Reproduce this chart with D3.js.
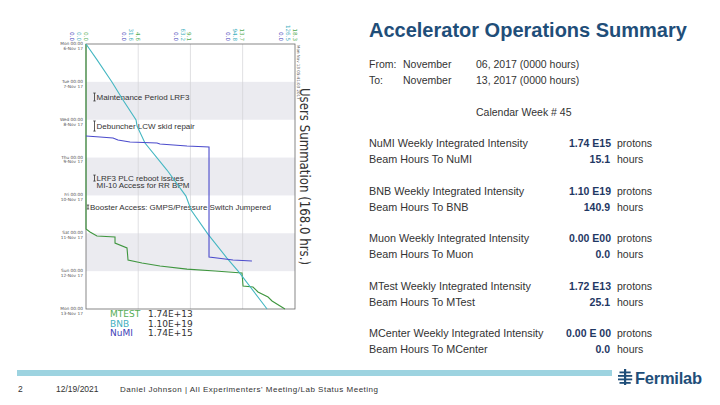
<!DOCTYPE html>
<html><head><meta charset="utf-8">
<script src="https://cdn.jsdelivr.net/npm/d3@7/dist/d3.min.js"></script>
<style>body{margin:0;background:#fff}svg{display:block}text{font-family:"Liberation Sans",Arial,sans-serif}</style>
</head><body><svg id="c" width="720" height="405"></svg>
<script>
// ---------- data ----------
const dayHours = [0, 24, 48, 72, 96, 120, 144, 168];
const dayNames = ["Mon 00:00","Tue 00:00","Wed 00:00","Thu 00:00","Fri 00:00","Sat 00:00","Sun 00:00","Mon 00:00"];
const dayDates = ["6-Nov 17","7-Nov 17","8-Nov 17","9-Nov 17","10-Nov 17","11-Nov 17","12-Nov 17","13-Nov 17"];
const shadedDays = [1, 3, 5];

const bnbTicks = [0, 31.6, 63.2, 94.8, 126.5];
const mtestTicks = [0, 4.6, 9.1, 13.7, 18.3];
const numiTicks = [0, 0.0055, 0.011, 0.0164, 0.0219];

const bnbHours  = [0, 10.1, 24.1, 35.5, 48.2, 52.0, 62.8, 79.9, 96.4, 105.2, 120.5, 135.7, 144.6, 168.0];
const bnbValues = [0, 6.7, 15.7, 22.4, 30.3, 30.9, 35.7, 49.0, 60.5, 63.6, 73.8, 85.3, 92.6, 109.6];

const mtestHours  = [0, 117.3, 119.2, 121.7, 122.4, 126.2, 129.3, 136.9, 138.8, 140.7, 142.7, 143.9, 145.2, 153.4, 154.1, 157.2, 160.4, 162.9, 168.0];
const mtestValues = [0, 0, 0.35, 0.96, 2.54, 2.54, 3.59, 3.68, 4.90, 6.48, 8.84, 11.30, 13.66, 13.75, 14.62, 15.06, 15.94, 16.29, 17.42];

const numiHours  = [58.3, 59.0, 59.6, 60.9, 62.1, 62.8, 63.4, 64.7, 65.3, 135.0, 135.7, 136.9, 137.6];
const numiValues = [0, 0.00147, 0.00283, 0.00335, 0.00461, 0.00744, 0.00775, 0.01058, 0.01289, 0.01289, 0.01373, 0.01540, 0.01739];

const annStart = [31.1, 48.8, 83.1, 102.1];
const annEnd   = [36.1, 55.2, 86.9, 104.6];
const annText  = [["Maintenance Period LRF3"], ["Debuncher LCW skid repair"], ["LRF3 PLC reboot issues", "MI-10 Access for RR BPM"], ["Booster Access: GMPS/Pressure Switch Jumpered"]];

const legendNames  = ["MTEST", "BNB", "NuMI"];
const legendTotals = ["1.74E+13", "1.10E+19", "1.74E+15"];

const beamlines = ["NuMI", "BNB", "Muon", "MTest", "MCenter"];
const intensityMant = ["1.74", "1.10", "0.00", "1.72", "0.00"];
const intensityExp  = ["E15", "E19", "E00", "E13", "E 00"];
const beamHours = ["15.1", "140.9", "0.0", "25.1", "0.0"];

// ---------- drawing ----------
const svg = d3.select("#c");
const C = {mtest: "#3f963f", bnb: "#45b7c2", numi: "#4b4bcc", mtestT: "#55ad55", bnbT: "#3fb0c0", numiT: "#4242b8"};

const y = d3.scaleLinear().domain([0, 168]).range([44, 309]);
const xB = d3.scaleLinear().domain([0, 126.5]).range([86, 295]);
const xM = d3.scaleLinear().domain([0, 18.3]).range([86, 295]);
const xN = d3.scaleLinear().domain([0, 0.0219]).range([86, 295]);

// bands
svg.append("g").selectAll("rect").data(shadedDays).join("rect")
  .attr("x", 86).attr("width", 209)
  .attr("y", d => y(dayHours[d])).attr("height", d => y(dayHours[d + 1]) - y(dayHours[d]))
  .attr("fill", "#ebebf0");

// vertical grid
svg.append("g").selectAll("line").data(bnbTicks.slice(1, -1)).join("line")
  .attr("x1", d => xB(d)).attr("x2", d => xB(d)).attr("y1", 44).attr("y2", 309)
  .attr("stroke", "#d2d2d6").attr("stroke-width", 0.7);

// frame
svg.append("rect").attr("x", 86).attr("y", 44).attr("width", 209).attr("height", 265)
  .attr("fill", "none").attr("stroke", "#6a6a6a").attr("stroke-width", 0.8);

// top axes (three stacked labels per tick)
function topAxis(scale, ticks, color, off, fmt) {
  const g = svg.append("g").attr("transform", "translate(0,41)")
    .call(d3.axisTop(scale).tickValues(ticks).tickSize(0).tickFormat(fmt));
  g.select(".domain").remove();
  g.selectAll("text").attr("transform", "rotate(90)").attr("x", 0).attr("y", off).attr("dy", 0)
    .attr("text-anchor", "end").attr("fill", color).attr("font-size", 5.6)
    .style("font-family", "'DejaVu Sans',sans-serif");
}
topAxis(xN, numiTicks, C.numiT, 17, d3.format(".1f"));
topAxis(xB, bnbTicks, C.bnbT, 10, d3.format(".1f"));
topAxis(xM, mtestTicks, C.mtestT, 3, d3.format(".1f"));

// left axis
const la = svg.append("g").attr("transform", "translate(86,0)")
  .call(d3.axisLeft(y).tickValues(dayHours).tickSize(0).tickPadding(3));
la.select(".domain").remove();
la.selectAll("text").each(function(d, i) {
  const t = d3.select(this).text(null).attr("dy", null).attr("y", 0)
    .attr("font-size", 4.3).attr("fill", "#555").style("font-family", "'DejaVu Sans',sans-serif");
  t.append("tspan").attr("x", -3).attr("dy", "0.1em").text(dayNames[i]);
  t.append("tspan").attr("x", -3).attr("dy", "1.15em").text(dayDates[i]);
});

// annotations
const ag = svg.append("g");
annText.forEach((lines, i) => {
  const y0 = y(annStart[i]), y1 = y(annEnd[i]), xm = i === 3 ? 88 : 94.5;
  ag.append("path").attr("d", `M${xm-1.2},${y0}H${xm+1.2}M${xm},${y0}V${y1}M${xm-1.2},${y1}H${xm+1.2}`)
    .attr("stroke", "#333").attr("stroke-width", 0.8).attr("fill", "none");
  const cy = (y0 + y1) / 2;
  lines.forEach((s, j) => {
    ag.append("text").attr("x", xm + 2).attr("y", cy + 2.5 + j * 7.6).attr("font-size", 8)
      .attr("fill", "#333").text(s);
  });
});

// series lines
const line = sx => d3.line().x(d => sx(d[1])).y(d => y(d[0]));
svg.append("path").datum(d3.zip(mtestHours, mtestValues)).attr("d", line(xM))
  .attr("fill", "none").attr("stroke", C.mtest).attr("stroke-width", 1.1);
svg.append("path").datum(d3.zip(bnbHours, bnbValues)).attr("d", line(xB))
  .attr("fill", "none").attr("stroke", C.bnb).attr("stroke-width", 1.1);
svg.append("path").datum(d3.zip(numiHours, numiValues)).attr("d", line(xN))
  .attr("fill", "none").attr("stroke", C.numi).attr("stroke-width", 1.1);

// right side labels of plot
svg.append("text").attr("transform", "translate(297,45) rotate(90)").attr("font-size", 4)
  .attr("fill", "#555").style("font-family", "'DejaVu Sans',sans-serif").text("Mon Nov 13 05:41:03 2017");
svg.append("text").attr("transform", "translate(300,88) rotate(90)").attr("font-size", 14.5)
  .attr("fill", "#333").attr("textLength", 177).attr("lengthAdjust", "spacingAndGlyphs")
  .style("font-family", "'DejaVu Sans',sans-serif").text("Users Summation (168.0 hrs.)");

// legend
const lcol = [C.mtestT, C.bnbT, C.numiT];
legendNames.forEach((n, i) => {
  svg.append("text").attr("x", 110).attr("y", 317 + i * 9.5).attr("font-size", 9).attr("fill", lcol[i])
    .style("font-family", "'DejaVu Sans',sans-serif").text(n);
  svg.append("text").attr("x", 148).attr("y", 317 + i * 9.5).attr("font-size", 9).attr("fill", "#333")
    .style("font-family", "'DejaVu Sans',sans-serif").text(legendTotals[i]);
});

// title + header
svg.append("text").attr("x", 369).attr("y", 37).attr("font-size", 20).attr("font-weight", "bold")
  .attr("fill", "#1f4e79").text("Accelerator Operations Summary");
const hdr = [["From:", "November", "06, 2017 (0000 hours)"], ["To:", "November", "13, 2017 (0000 hours)"]];
hdr.forEach((r, i) => {
  [369, 403, 476].forEach((x, j) => svg.append("text").attr("x", x).attr("y", 68 + i * 16)
    .attr("font-size", 10.5).attr("fill", "#333").text(r[j]));
});
svg.append("text").attr("x", 476).attr("y", 116).attr("font-size", 10.5).attr("fill", "#333").text("Calendar Week # 45");

// stats
beamlines.forEach((b, i) => {
  const yb = 147 + i * 47.5;
  svg.append("text").attr("x", 369).attr("y", yb).attr("font-size", 10.8).attr("fill", "#333")
    .text(b + " Weekly Integrated Intensity");
  svg.append("text").attr("x", 369).attr("y", yb + 16).attr("font-size", 10.8).attr("fill", "#333")
    .text("Beam Hours To " + b);
  svg.append("text").attr("x", 611).attr("y", yb).attr("font-size", 10.5).attr("font-weight", "bold")
    .attr("text-anchor", "end").attr("fill", "#1f3864").text(intensityMant[i] + " " + intensityExp[i]);
  svg.append("text").attr("x", 617).attr("y", yb).attr("font-size", 10.5).attr("fill", "#333").text("protons");
  svg.append("text").attr("x", 610).attr("y", yb + 16).attr("font-size", 10.5).attr("font-weight", "bold")
    .attr("text-anchor", "end").attr("fill", "#1f3864").text(beamHours[i]);
  svg.append("text").attr("x", 617).attr("y", yb + 16).attr("font-size", 10.5).attr("fill", "#333").text("hours");
});

// footer
svg.append("rect").attr("x", 17).attr("y", 370).attr("width", 595).attr("height", 6).attr("fill", "#9dd3e0");
svg.append("text").attr("x", 18).attr("y", 392).attr("font-size", 8.5).attr("fill", "#333").text("2");
svg.append("text").attr("x", 56).attr("y", 392).attr("font-size", 8.5).attr("fill", "#333").text("12/19/2021");
svg.append("text").attr("x", 120).attr("y", 392).attr("font-size", 8).attr("fill", "#333")
  .attr("textLength", 258).attr("lengthAdjust", "spacing")
  .text("Daniel Johnson | All Experimenters' Meeting/Lab Status Meeting");

// Fermilab logo
const lg = svg.append("g").attr("transform", "translate(618,369)").attr("fill", "#1f4e79");
lg.append("rect").attr("x", 6).attr("y", 0).attr("width", 2.2).attr("height", 16);
[[0, 2.5], [0, 6], [0, 9.5], [0, 13]].forEach(([x, yy], i) => {
  lg.append("rect").attr("x", i % 3 === 0 ? 1.5 : 0).attr("y", yy).attr("width", i % 3 === 0 ? 11.2 : 14.2).attr("height", 1.8);
});
svg.append("text").attr("x", 635).attr("y", 384).attr("font-size", 16.5).attr("font-weight", "bold")
  .attr("fill", "#1f4e79").attr("textLength", 67).text("Fermilab");
</script></body></html>
